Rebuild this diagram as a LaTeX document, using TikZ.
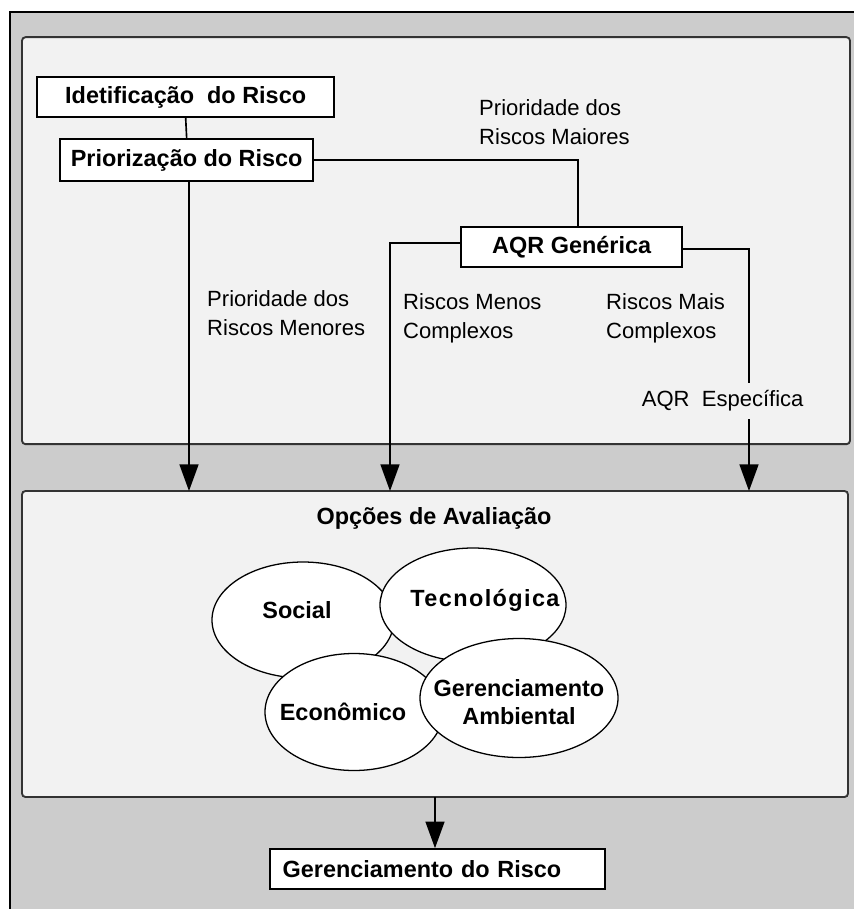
\documentclass[tikz,border=0pt]{standalone}
\usepackage{fontspec}
\setmainfont{Liberation Sans}
\usetikzlibrary{arrows.meta,positioning,shapes.geometric}

\begin{document}
\begin{tikzpicture}[x=1cm,y=1cm]
\tikzset{
  panel/.style={rectangle,draw=black!80,line width=1.6pt,fill=black!5,rounded corners=3pt,inner sep=0pt,outer sep=0pt},
  stepbox/.style={rectangle,draw,line width=1.4pt,fill=white,inner sep=0pt,font=\fontsize{20}{24}\selectfont\bfseries},
  areanode/.style={ellipse,draw,line width=1.1pt,fill=white,inner sep=0pt},
  areatext/.style={inner sep=0pt,align=center,font=\fontsize{20}{24}\selectfont\bfseries},
  edgetext/.style={inner sep=0pt,align=left,anchor=west,font=\fontsize{18.8}{24.7}\selectfont},
  directed/.style={-{Triangle[length=0.8cm,width=0.57cm]},line width=1.4pt},
  undirected/.style={line width=1.4pt}
}
\useasboundingbox (0,0) rectangle (25.62,-27.27);
\fill[white] (0,0) rectangle (25.62,-27.27);
\fill[black!20] (0.30,-0.36) rectangle (25.62,-27.27);
\draw[line width=1.6pt] (0.30,-27.27) -- (0.30,-0.36) -- (25.62,-0.36);
\node[panel,minimum width=24.84cm,minimum height=12.21cm] (n_top) at (13.08,-7.22) {};
\node[panel,minimum width=24.78cm,minimum height=9.18cm] (n_opt) at (13.05,-19.32) {};
\node[stepbox,minimum width=8.91cm,minimum height=1.20cm] (n_ident) at (5.57,-2.91) {Idetificação\ \ do Risco};
\node[stepbox,minimum width=7.59cm,minimum height=1.26cm] (n_prior) at (5.60,-4.80) {Priorização do Risco};
\node[stepbox,minimum width=6.63cm,minimum height=1.20cm] (n_aqr) at (17.15,-7.41) {AQR Genérica};
\node[stepbox,minimum width=10.05cm,minimum height=1.20cm,text width=9.3cm,align=left] (n_ger) at (13.13,-26.07) {Gerenciamento do Risco};
\node[edgetext] (n_maiores) at (14.37,-3.66) {Prioridade dos\\Riscos Maiores};
\node[edgetext] (n_menores) at (6.21,-9.39) {Prioridade dos\\Riscos Menores};
\node[edgetext] (n_menos) at (12.09,-9.55) {Riscos Menos\\Complexos};
\node[edgetext] (n_mais) at (18.18,-9.55) {Riscos Mais\\Complexos};
\node[edgetext,anchor=center,minimum height=1.08cm] (n_spec) at (21.68,-12.03) {AQR~~Específica};
\node[areatext] (n_title) at (13.02,-15.54) {Opções de Avaliação};
\node[areanode,minimum width=5.46cm,minimum height=3.48cm,
  label={[areatext,xshift=-0.18cm,yshift=0.30cm]center:Social}] (n_social) at (9.09,-18.60) {};
\node[areanode,minimum width=5.58cm,minimum height=3.42cm,
  label={[areatext,xshift=0.36cm,yshift=0.15cm,font=\fontsize{20}{24}\selectfont\bfseries\addfontfeature{LetterSpace=6}]center:Tecnológica}] (n_tec) at (14.19,-18.15) {};
\node[areanode,minimum width=5.34cm,minimum height=3.51cm,
  label={[areatext,xshift=-0.33cm]center:Econômico}] (n_eco) at (10.62,-21.36) {};
\node[areanode,minimum width=5.94cm,minimum height=3.57cm,
  label={[areatext,yshift=-0.13cm]center:Gerenciamento\\Ambiental}] (n_amb) at (15.57,-20.94) {};
\coordinate (a_left) at (5.67,-14.73);
\coordinate (a_mid) at (11.70,-14.73);
\coordinate (a_right) at (22.47,-14.73);
\draw[undirected] (n_ident.south) -- (n_prior.north);
\draw[directed] (n_prior.south -| a_left) -- (a_left);
\draw[undirected] (n_prior.east) -| ([xshift=0.19cm]n_aqr.north);
\draw[directed] ([yshift=0.12cm]n_aqr.west) -| (a_mid);
\draw[undirected] ([yshift=-0.06cm]n_aqr.east) -| (n_spec.north -| a_right);
\draw[directed] (n_spec.south -| a_right) -- (a_right);
\draw[directed] (n_opt.south) -- (n_opt.south |- n_ger.north);
\end{tikzpicture}
\end{document}
